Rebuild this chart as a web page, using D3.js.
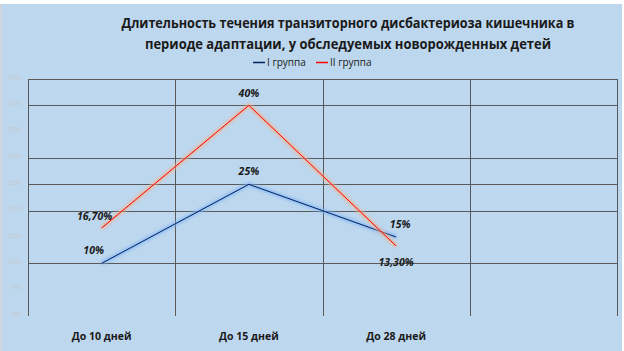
<!DOCTYPE html>
<html>
<head>
<meta charset="utf-8">
<script src="https://cdn.jsdelivr.net/npm/d3@7"></script>
<style>
  html, body { margin: 0; padding: 0; background: #fff; }
  svg { display: block; }
</style>
</head>
<body>
<svg id="chart" width="624" height="351"></svg>
<script>
// chart data
const categories = ['До 10 дней', 'До 15 дней', 'До 28 дней', '']
const group1 = [10, 25, 15]
const group2 = [16.7, 40, 13.3]
const group1Labels = ['10%', '25%', '15%']
const group2Labels = ['16,70%', '40%', '13,30%']
const yTicks = [0, 5, 10, 15, 20, 25, 30, 35, 40, 45]
const gridTicks = [10, 20, 25, 30, 40, 45]
const seriesNames = ['I группа', 'II группа']

const svg = d3.select('#chart')

// background
svg.append('rect')
  .attr('x', 0).attr('y', 4).attr('width', 622).attr('height', 347)
  .attr('fill', '#bdd7ee')
svg.append('rect')
  .attr('x', 0).attr('y', 4).attr('width', 1.5).attr('height', 347)
  .attr('fill', '#d6d6d6')

const defs = svg.append('defs')
defs.append('filter').attr('id', 'glow')
  .attr('x', '-10%').attr('y', '-10%').attr('width', '120%').attr('height', '120%')
  .append('feGaussianBlur').attr('stdDeviation', 1.6)

const plotLeft = 28
const plotRight = 617
const plotTop = 79
const plotBottom = 316

const x = d3.scaleBand().domain(categories).range([plotLeft, plotRight])
const y = d3.scaleLinear().domain([0, 45]).range([plotBottom, plotTop])
const cx = d => x(d) + x.bandwidth() / 2

// grid
const g = svg.append('g')
g.selectAll('.hgrid')
  .data(gridTicks)
  .join('line')
  .attr('class', 'hgrid')
  .attr('x1', plotLeft).attr('x2', plotRight)
  .attr('y1', d => Math.round(y(d)) + 0.5)
  .attr('y2', d => Math.round(y(d)) + 0.5)
  .attr('stroke', '#595959')
  .attr('stroke-width', 1)

const vlines = [plotLeft].concat(categories.map(c => x(c) + x.bandwidth()))
g.selectAll('.vgrid')
  .data(vlines)
  .join('line')
  .attr('class', 'vgrid')
  .attr('x1', d => Math.round(d) + 0.5).attr('x2', d => Math.round(d) + 0.5)
  .attr('y1', plotTop).attr('y2', plotBottom)
  .attr('stroke', '#595959')
  .attr('stroke-width', 1)

// y tick labels (very faint)
g.selectAll('.ytick')
  .data(yTicks)
  .join('text')
  .attr('class', 'ytick')
  .attr('x', 21)
  .attr('y', d => y(d) - 1)
  .attr('text-anchor', 'end')
  .attr('dominant-baseline', 'middle')
  .attr('fill', '#c6cbd1')
  .style('font-family', 'Liberation Sans, Arial, sans-serif')
  .style('font-size', '6.5px')
  .text(d => d + '%')

// x labels
g.selectAll('.xlabel')
  .data(categories.filter(c => c))
  .join('text')
  .attr('class', 'xlabel')
  .attr('x', d => cx(d))
  .attr('y', 340)
  .attr('text-anchor', 'middle')
  .attr('fill', '#1a1a1a')
  .style('font-family', 'Open Sans, sans-serif')
  .style('font-weight', 'bold')
  .style('font-size', '10.5px')
  .text(d => d)

// lines
const line = d3.line()
  .x((d, i) => cx(categories[i]))
  .y(d => y(d))

function drawSeries (data, color, glow) {
  svg.append('path')
    .datum(data)
    .attr('d', line)
    .attr('fill', 'none')
    .attr('stroke', glow)
    .attr('stroke-width', 4)
    .attr('stroke-opacity', 0.75)
    .attr('filter', 'url(#glow)')
  svg.append('path')
    .datum(data)
    .attr('d', line)
    .attr('fill', 'none')
    .attr('stroke', color)
    .attr('stroke-width', 1)
}

drawSeries(group1, '#002060', '#7db4f5')
drawSeries(group2, '#ff0000', '#f4b08a')

// data labels
const labelOffsets1 = [[-8, -12], [0, -12], [4, -12]]
const labelOffsets2 = [[-7, -11], [0, -11], [0, 17]]

function drawLabels (data, labels, offsets) {
  svg.append('g').selectAll('text')
    .data(data)
    .join('text')
    .attr('x', (d, i) => cx(categories[i]) + offsets[i][0])
    .attr('y', (d, i) => y(d) + offsets[i][1])
    .attr('text-anchor', 'middle')
    .attr('dominant-baseline', 'middle')
    .attr('fill', '#1a1a1a')
    .style('font-family', 'Open Sans, sans-serif')
    .style('font-style', 'italic')
    .style('font-weight', 'bold')
    .style('font-size', '10.5px')
    .text((d, i) => labels[i])
}

drawLabels(group1, group1Labels, labelOffsets1)
drawLabels(group2, group2Labels, labelOffsets2)

// title
const titleLines = [
  'Длительность течения транзиторного дисбактериоза кишечника в',
  'периоде адаптации, у обследуемых новорожденных детей'
]
const titleWidths = [453, 406]
svg.append('g').selectAll('text')
  .data(titleLines)
  .join('text')
  .attr('x', 348)
  .attr('y', (d, i) => 28 + i * 21)
  .attr('text-anchor', 'middle')
  .attr('fill', '#1a1a1a')
  .attr('textLength', (d, i) => titleWidths[i])
  .attr('lengthAdjust', 'spacingAndGlyphs')
  .style('font-family', 'Open Sans, sans-serif')
  .style('font-weight', 'bold')
  .style('font-size', '13.5px')
  .text(d => d)

// legend
const legendColors = ['#002060', '#ff0000']
const legendX = [253, 316]
const legend = svg.append('g')
seriesNames.forEach((name, i) => {
  legend.append('line')
    .attr('x1', legendX[i]).attr('x2', legendX[i] + 12)
    .attr('y1', 62.5).attr('y2', 62.5)
    .attr('stroke', legendColors[i])
    .attr('stroke-width', 1.5)
  legend.append('text')
    .attr('x', legendX[i] + 14)
    .attr('y', 63)
    .attr('dominant-baseline', 'middle')
    .attr('fill', '#1a1a1a')
    .style('font-family', 'Open Sans, sans-serif')
    .style('font-size', '10px')
    .text(name)
})
</script>
</body>
</html>
